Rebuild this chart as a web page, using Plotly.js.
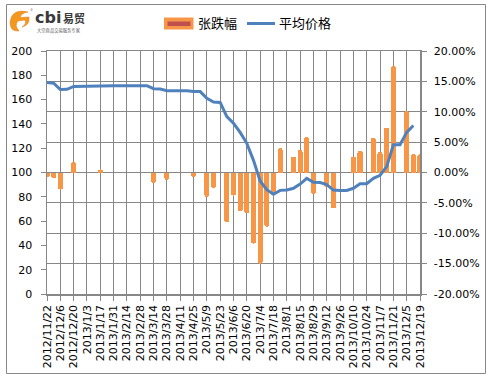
<!DOCTYPE html>
<html>
<head>
<meta charset="utf-8">
<script src="https://cdn.plot.ly/plotly-3.0.1.min.js"></script>
<style>
html,body{margin:0;padding:0;background:#fff;}
#chart{width:491px;height:380px;}
</style>
</head>
<body>
<div id="chart"></div>
<script>
// ---- data ----
var weeks = [
 '2012-11-22','2012-11-29','2012-12-06','2012-12-13','2012-12-20','2012-12-27',
 '2013-01-03','2013-01-10','2013-01-17','2013-01-24','2013-01-31','2013-02-07',
 '2013-02-14','2013-02-21','2013-02-28','2013-03-07','2013-03-14','2013-03-21',
 '2013-03-28','2013-04-04','2013-04-11','2013-04-18','2013-04-25','2013-05-02',
 '2013-05-09','2013-05-16','2013-05-23','2013-05-30','2013-06-06','2013-06-13',
 '2013-06-20','2013-06-27','2013-07-04','2013-07-11','2013-07-18','2013-07-25',
 '2013-08-01','2013-08-08','2013-08-15','2013-08-22','2013-08-29','2013-09-05',
 '2013-09-12','2013-09-19','2013-09-26','2013-10-03','2013-10-10','2013-10-17',
 '2013-10-24','2013-10-31','2013-11-07','2013-11-14','2013-11-21','2013-11-28',
 '2013-12-05','2013-12-12','2013-12-19'
];
// 张跌幅 (weekly change, fraction)
var change = [
 -0.008,-0.009,-0.028,0,0.017,0,
 0,0,0.005,0,0,0,
 0,0,0,0,-0.017,0,
 -0.012,0,0,0,-0.007,0,
 -0.040,-0.025,0,-0.082,-0.038,-0.064,
 -0.067,-0.117,-0.150,-0.089,-0.037,0.040,
 0,0.026,0.037,0.058,-0.035,0,
 -0.024,-0.059,0,0,0.026,0.036,
 0,0.057,0.034,0.074,0.175,0,
 0.101,0.030,0.030
];
// 平均价格 (average price)
var price = [
 174.0,173.5,168.3,168.5,170.8,171.0,
 171.0,171.0,171.5,171.5,171.5,171.5,
 171.5,171.5,171.5,171.5,169.0,168.7,
 167.3,167.3,167.3,167.3,166.6,166.6,
 161.0,158.0,157.7,146.0,140.5,133.0,
 124.0,110.0,93.0,85.9,82.1,85.3,
 85.6,87.0,90.5,95.2,92.0,91.7,
 90.0,85.5,85.2,85.2,87.0,90.8,
 90.8,95.2,97.7,104.8,122.8,122.8,
 133.0,138.7,null
];
var xTickVals = [
 '2012-11-22','2012-12-06','2012-12-20','2013-01-03','2013-01-17','2013-01-31',
 '2013-02-14','2013-02-28','2013-03-14','2013-03-28','2013-04-11','2013-04-25',
 '2013-05-09','2013-05-23','2013-06-06','2013-06-20','2013-07-04','2013-07-18',
 '2013-08-01','2013-08-15','2013-08-29','2013-09-12','2013-09-26','2013-10-10',
 '2013-10-24','2013-11-07','2013-11-21','2013-12-05','2013-12-19'
];
var xTickText = [
 '2012/11/22','2012/12/6','2012/12/20','2013/1/3','2013/1/17','2013/1/31',
 '2013/2/14','2013/2/28','2013/3/14','2013/3/28','2013/4/11','2013/4/25',
 '2013/5/9','2013/5/23','2013/6/6','2013/6/20','2013/7/4','2013/7/18',
 '2013/8/1','2013/8/15','2013/8/29','2013/9/12','2013/9/26','2013/10/10',
 '2013/10/24','2013/11/7','2013/11/21','2013/12/5','2013/12/19'
];
var pctTickVals = [-0.20,-0.15,-0.10,-0.05,0,0.05,0.10,0.15,0.20];
var pctTickText = ['-20.00%','-15.00%','-10.00%','-5.00%','0.00%','5.00%','10.00%','15.00%','20.00%'];
var priceTickVals = [0,20,40,60,80,100,120,140,160,180,200];
var seriesNames = ['张跌幅','平均价格'];

// ---- layout helpers (pixel -> paper) ----
var ML = 47, MR = 71, MT = 51, MB = 86, WW = 491, HH = 380;
var PW = WW - ML - MR, PH = HH - MT - MB;
function X(px){ return (px - ML) / PW; }
function Y(py){ return (HH - MB - py) / PH; }

var grid = '#878787';
var orange = '#F79646', blue = '#4F81BD', red = '#C0504D';
var dayMs = 86400000;

var traces = [
 {
  type:'bar', name:seriesNames[0], x:weeks, y:change, yaxis:'y', xaxis:'x',
  width: 5.4*dayMs,
  marker:{color:orange, line:{width:0}, cornerradius:2},
  hoverinfo:'skip', showlegend:false
 },
 {
  type:'scatter', mode:'lines', name:seriesNames[1], x:weeks, y:price, yaxis:'y2', xaxis:'x',
  line:{color:blue, width:3},
  hoverinfo:'skip', showlegend:false
 },
 {
  type:'scatter', mode:'lines', x:[], y:[], xaxis:'x2', yaxis:'y',
  showlegend:false, hoverinfo:'skip'
 }
];

var tickFont = {family:'DejaVu Sans, Verdana, sans-serif', size:11, color:'#000'};

var shapes = [
 // outer border
 {type:'rect', xref:'paper', yref:'paper', x0:X(6.5), x1:X(485.5), y0:Y(373.5), y1:Y(4.5),
  line:{color:'#888', width:1}, fillcolor:'rgba(0,0,0,0)', layer:'below'},
 // legend: bar key
 {type:'rect', xref:'paper', yref:'paper', x0:X(164), x1:X(193.5), y0:Y(29.5), y1:Y(17.5),
  line:{width:0}, fillcolor:orange},
 {type:'rect', xref:'paper', yref:'paper', x0:X(167.5), x1:X(190.5), y0:Y(26), y1:Y(21.5),
  line:{width:0}, fillcolor:red},
 // legend: line key
 {type:'line', xref:'paper', yref:'paper', x0:X(247), x1:X(275), y0:Y(23.5), y1:Y(23.5),
  line:{color:blue, width:3}},
 // logo swoosh
 {type:'path', xref:'paper', yref:'paper',
  path: 'M '+X(28)+','+Y(12)+' Q '+X(12)+','+Y(8)+' '+X(10)+','+Y(22)+
        ' Q '+X(10)+','+Y(32)+' '+X(19)+','+Y(31)+
        ' Q '+X(14)+','+Y(25)+' '+X(18)+','+Y(21)+
        ' L '+X(25)+','+Y(20)+' Q '+X(27)+','+Y(24)+' '+X(22)+','+Y(27)+
        ' Q '+X(30)+','+Y(25)+' '+X(29)+','+Y(17)+
        ' L '+X(20)+','+Y(17.5)+' Q '+X(21)+','+Y(13)+' '+X(28)+','+Y(12)+' Z',
  fillcolor:'#F39A1E', line:{color:'#E8771A', width:0.5}}
];

var annotations = [
 {xref:'paper', yref:'paper', x:X(196), y:Y(22.5), xanchor:'left', yanchor:'middle',
  text:seriesNames[0], showarrow:false,
  font:{family:'Noto Sans CJK SC, sans-serif', size:13, color:'#000'}},
 {xref:'paper', yref:'paper', x:X(276.5), y:Y(22.5), xanchor:'left', yanchor:'middle',
  text:seriesNames[1], showarrow:false,
  font:{family:'Noto Sans CJK SC, sans-serif', size:13, color:'#000'}},
 // logo text
 {xref:'paper', yref:'paper', x:X(33), y:Y(17.5), xanchor:'left', yanchor:'middle',
  text:'<b>cbi</b>', showarrow:false,
  font:{family:'DejaVu Sans, sans-serif', size:16, color:'#3a3a3a'}},
 {xref:'paper', yref:'paper', x:X(61), y:Y(18), xanchor:'left', yanchor:'middle',
  text:'<b>易贸</b>', showarrow:false,
  font:{family:'Noto Sans CJK SC, sans-serif', size:11, color:'#3a3a3a'}},
 {xref:'paper', yref:'paper', x:X(35), y:Y(30), xanchor:'left', yanchor:'middle',
  text:'大宗商品交易服务专家', showarrow:false,
  font:{family:'Noto Sans CJK SC, sans-serif', size:4.3, color:'#555'}},
 {xref:'paper', yref:'paper', x:X(31.5), y:Y(10.5), xanchor:'center', yanchor:'middle',
  text:'°', showarrow:false,
  font:{family:'DejaVu Sans, sans-serif', size:6, color:'#555'}}
];

var layout = {
 width:WW, height:HH,
 margin:{l:ML, r:MR, t:MT, b:MB, pad:0},
 paper_bgcolor:'#fff', plot_bgcolor:'#fff',
 showlegend:false,
 bargap:0,
 xaxis:{
  type:'date', range:[weeks[0], weeks[weeks.length-1]],
  tickmode:'array', tickvals:xTickVals, ticktext:xTickText, tickangle:-90,
  showgrid:true, gridcolor:grid, gridwidth:1,
  showline:true, linecolor:grid, linewidth:1.5,
  ticks:'outside', ticklen:5, tickcolor:grid, tickwidth:1,
  tickfont:tickFont, zeroline:false, fixedrange:true
 },
 xaxis2:{
  type:'date', overlaying:'x', side:'top', anchor:'y',
  range:[weeks[0], weeks[weeks.length-1]],
  tickmode:'array', tickvals:xTickVals, showticklabels:false,
  showgrid:false, showline:true, linecolor:grid, linewidth:1,
  ticks:'inside', ticklen:5, tickcolor:grid, zeroline:false
 },
 yaxis:{
  side:'right', range:[-0.2,0.2],
  tickmode:'array', tickvals:pctTickVals, ticktext:pctTickText,
  showgrid:true, gridcolor:grid, gridwidth:1,
  showline:true, linecolor:grid, linewidth:1.5,
  ticks:'outside', ticklen:5, tickcolor:grid,
  tickfont:tickFont, zeroline:false, ticklabelstandoff:5
 },
 yaxis2:{
  overlaying:'y', side:'left', range:[0,200],
  tickmode:'array', tickvals:priceTickVals,
  showgrid:false, showline:true, linecolor:grid, linewidth:1.5,
  ticks:'outside', ticklen:5, tickcolor:grid,
  tickfont:tickFont, zeroline:false, ticklabelstandoff:6
 },
 shapes:shapes,
 annotations:annotations
};

Plotly.newPlot('chart', traces, layout, {staticPlot:true, displayModeBar:false});
</script>
</body>
</html>
